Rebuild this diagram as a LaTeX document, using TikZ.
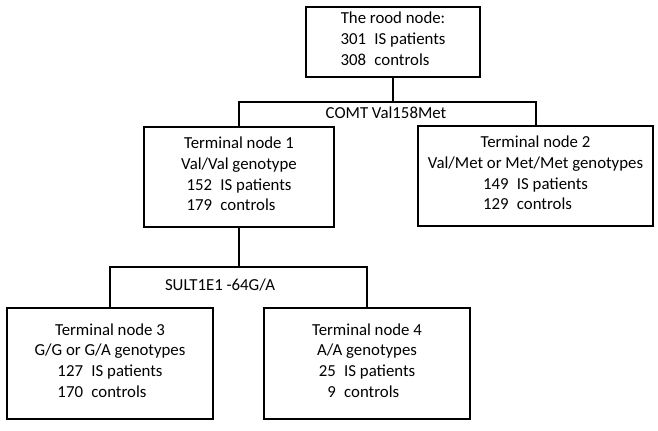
\documentclass[tikz,border=0pt]{standalone}
\usepackage{fontspec}
\setmainfont{Carlito}
\usepackage{tikz}
\usetikzlibrary{positioning,calc}

\newcommand{\tally}[2]{\begin{tabular}[t]{@{}r@{\hspace{0.5em}}l@{}}#1 & IS patients\\ #2 & controls\end{tabular}}

\begin{document}
\begin{tikzpicture}[x=0.75pt, y=-0.75pt, line width=1.5pt,
    every node/.style={font=\fontsize{12.6}{15.6}\selectfont},
    tnode/.style 2 args={draw, align=center, inner sep=0pt,
        minimum width=#1*0.75pt, minimum height=#2*0.75pt}]
    \useasboundingbox (0,0) rectangle (658,430);

    % Root node
    \node[tnode={174}{70}] (root) at (393,42) {The rood node:\\ \tally{301}{308}};

    % First split
    \node[tnode={190}{100}] (t1) at (239,177) {Terminal node 1\\ Val/Val genotype\\ \tally{152}{179}};
    \node[tnode={235}{100}] (t2) at (535.5,176) {Terminal node 2\\ Val/Met or Met/Met genotypes\\ \tally{149}{129}};
    \coordinate (split1) at (388,102);
    \node (lab1) at (386,113) {COMT Val158Met};
    \draw (root.south) -- (root.south |- split1);
    \draw (t1.north) |- (split1) -| (t2.north);

    % Second split
    \node[tnode={206}{111}] (t3) at (110,363.5) {Terminal node 3\\ G/G or G/A genotypes\\ \tally{127}{170}};
    \node[tnode={206}{111}] (t4) at (367,363.5) {Terminal node 4\\ A/A genotypes\\ \tally{25}{9}};
    \coordinate (split2) at (238,267);
    \node (lab2) at (220,285) {SULT1E1 -64G/A};
    \draw (t1.south) -- (t1.south |- split2);
    \draw (t3.north) |- (split2) -| (t4.north);
\end{tikzpicture}
\end{document}
